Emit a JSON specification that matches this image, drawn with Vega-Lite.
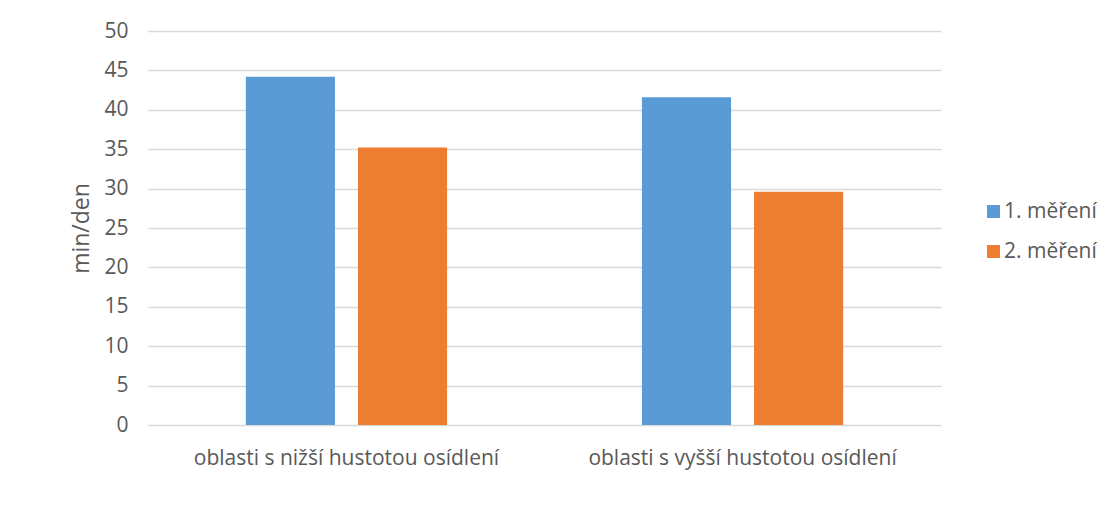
{
  "$schema": "https://vega.github.io/schema/vega-lite/v6.json",
  "width": 793,
  "height": 394,
  "autosize": {"type": "none"},
  "padding": {"left": 148, "top": 31, "right": 172, "bottom": 103},
  "background": "white",
  "data": {
    "values": [
      {"oblast": "oblasti s nižší hustotou osídlení", "mereni": "1. měření", "hodnota": 44.2},
      {"oblast": "oblasti s nižší hustotou osídlení", "mereni": "2. měření", "hodnota": 35.2},
      {"oblast": "oblasti s vyšší hustotou osídlení", "mereni": "1. měření", "hodnota": 41.6},
      {"oblast": "oblasti s vyšší hustotou osídlení", "mereni": "2. měření", "hodnota": 29.6}
    ]
  },
  "mark": {"type": "bar"},
  "encoding": {
    "x": {
      "field": "oblast",
      "type": "nominal",
      "sort": null,
      "scale": {"paddingInner": 0.492, "paddingOuter": 0.247},
      "axis": {
        "title": null,
        "labelAngle": 0,
        "domain": false,
        "ticks": false,
        "labelPadding": 22,
        "labelFont": "Open Sans",
        "labelFontSize": 21,
        "labelColor": "#595959",
        "labelLimit": 450
      }
    },
    "xOffset": {
      "field": "mereni",
      "type": "nominal",
      "scale": {"paddingInner": 0.205, "paddingOuter": 0}
    },
    "y": {
      "field": "hodnota",
      "type": "quantitative",
      "scale": {"domain": [0, 50]},
      "axis": {
        "title": "min/den",
        "values": [0, 5, 10, 15, 20, 25, 30, 35, 40, 45, 50],
        "domain": false,
        "ticks": false,
        "labelPadding": 20,
        "labelFont": "Open Sans",
        "labelFontSize": 21,
        "labelColor": "#595959",
        "titleFont": "Open Sans",
        "titleFontSize": 23,
        "titleFontWeight": "normal",
        "titleColor": "#595959",
        "titlePadding": 10,
        "gridColor": "#d9d9d9",
        "gridWidth": 1.3
      }
    },
    "color": {
      "field": "mereni",
      "type": "nominal",
      "scale": {"domain": ["1. měření", "2. měření"], "range": ["#5b9bd5", "#ed7d31"]},
      "legend": {
        "title": null,
        "orient": "none",
        "legendX": 835,
        "legendY": 170,
        "symbolType": "square",
        "symbolSize": 170,
        "symbolStrokeWidth": 0,
        "rowPadding": 18,
        "labelFont": "Open Sans",
        "labelFontSize": 21,
        "labelColor": "#595959",
        "labelOffset": 0
      }
    }
  },
  "config": {
    "view": {"stroke": null}
  }
}
